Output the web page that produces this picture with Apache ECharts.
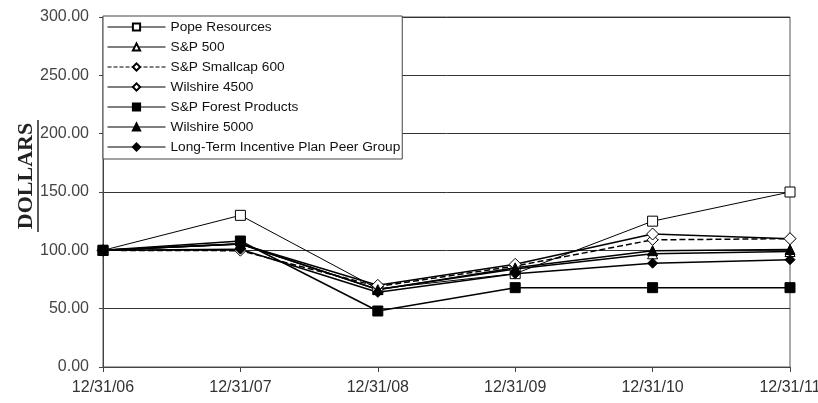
<!DOCTYPE html>
<html>
<head>
<meta charset="utf-8">
<script src="https://cdn.jsdelivr.net/npm/echarts@6/dist/echarts.min.js"></script>
<style>
html,body{margin:0;padding:0;background:#fff;}
#chart{width:818px;height:403px;}
</style>
</head>
<body>
<div id="chart"></div>
<script>
const categories = ['12/31/06','12/31/07','12/31/08','12/31/09','12/31/10','12/31/11'];
const popeResources = [100, 130, 67, 80, 125, 150];
const sp500 = [100, 105.5, 66.5, 84, 97, 99];
const spSmallcap600 = [100, 99.7, 69, 86.5, 109, 110];
const wilshire4500 = [100, 105.4, 70, 88, 114, 110];
const spForestProducts = [100, 108, 48, 68, 68, 68];
const wilshire5000 = [100, 105.6, 66.3, 85, 99.7, 100.7];
const ltipPeerGroup = [100, 101, 64, 80, 89, 92];
const yTicks = [0, 50, 100, 150, 200, 250, 300];

const chart = echarts.init(document.getElementById('chart'));

function mk(name, data, symbol, filled, lineType, width, size) {
  return {
    name: name,
    type: 'line',
    data: data,
    symbol: symbol,
    symbolSize: size,
    showSymbol: true,
    animation: false,
    z: 3,
    lineStyle: {color: '#000', width: width, type: lineType},
    itemStyle: filled ? {color: '#000', borderColor: '#000', borderWidth: 1}
                      : {color: '#fff', borderColor: '#000', borderWidth: 1},
    emphasis: {disabled: true}
  };
}

const option = {
  backgroundColor: '#fff',
  animation: false,
  grid: {left: 103, right: 28, top: 17, bottom: 36, show: true, borderColor: '#555', borderWidth: 1,
         containLabel: false, outerBoundsMode: 'none'},
  legend: {
    orient: 'vertical',
    left: 103, top: 16,
    z: 10,
    backgroundColor: '#fff',
    borderColor: '#444',
    borderWidth: 1,
    padding: [3, 2, 4, 4],
    itemWidth: 58,
    itemHeight: 9,
    itemGap: 4,
    lineStyle: {width: 1},
    textStyle: {fontFamily: 'Liberation Sans, Arial', fontSize: 13.7, color: '#111', lineHeight: 16},
    data: ['Pope Resources','S&P 500','S&P Smallcap 600','Wilshire 4500','S&P Forest Products','Wilshire 5000','Long-Term Incentive Plan Peer Group']
  },
  xAxis: {
    type: 'category',
    data: categories,
    boundaryGap: false,
    axisLine: {lineStyle: {color: '#444', width: 1}},
    axisTick: {show: true, length: 5, lineStyle: {color: '#444'}},
    axisLabel: {fontFamily: 'Liberation Sans, Arial', fontSize: 16, color: '#333', margin: 13},
    splitLine: {show: false}
  },
  yAxis: {
    type: 'value',
    min: 0, max: 300, interval: 50,
    axisLine: {show: true, lineStyle: {color: '#444', width: 1}},
    axisTick: {show: true, length: 4, lineStyle: {color: '#444'}},
    axisLabel: {fontFamily: 'Liberation Sans, Arial', fontSize: 16, color: '#444', margin: 14,
      formatter: v => yTicks.includes(v) ? v.toFixed(2) : ''},
    splitLine: {show: true, lineStyle: {color: '#333', width: 1}}
  },
  graphic: [
    {type: 'text', x: 26, y: 176, rotation: Math.PI/2,
     style: {text: 'DOLLARS', font: 'bold 22px "Liberation Serif", "DejaVu Serif", serif', fill: '#222',
             textAlign: 'center', textVerticalAlign: 'middle'}},
    {type: 'line', shape: {x1: 38, y1: 120, x2: 38, y2: 232}, style: {stroke: '#222', lineWidth: 1.5}}
  ],
  series: [
    mk('Pope Resources', popeResources, 'rect', false, 'solid', 1, 10),
    mk('S&P 500', sp500, 'triangle', false, 'solid', 1.5, 10),
    mk('S&P Smallcap 600', spSmallcap600, 'diamond', false, 'dashed', 1.5, 11),
    mk('Wilshire 4500', wilshire4500, 'diamond', false, 'solid', 1.5, 12),
    mk('S&P Forest Products', spForestProducts, 'rect', true, 'solid', 1.5, 10),
    mk('Wilshire 5000', wilshire5000, 'triangle', true, 'solid', 1.5, 10),
    mk('Long-Term Incentive Plan Peer Group', ltipPeerGroup, 'diamond', true, 'solid', 1.5, 10)
  ]
};
chart.setOption(option);
</script>
</body>
</html>
